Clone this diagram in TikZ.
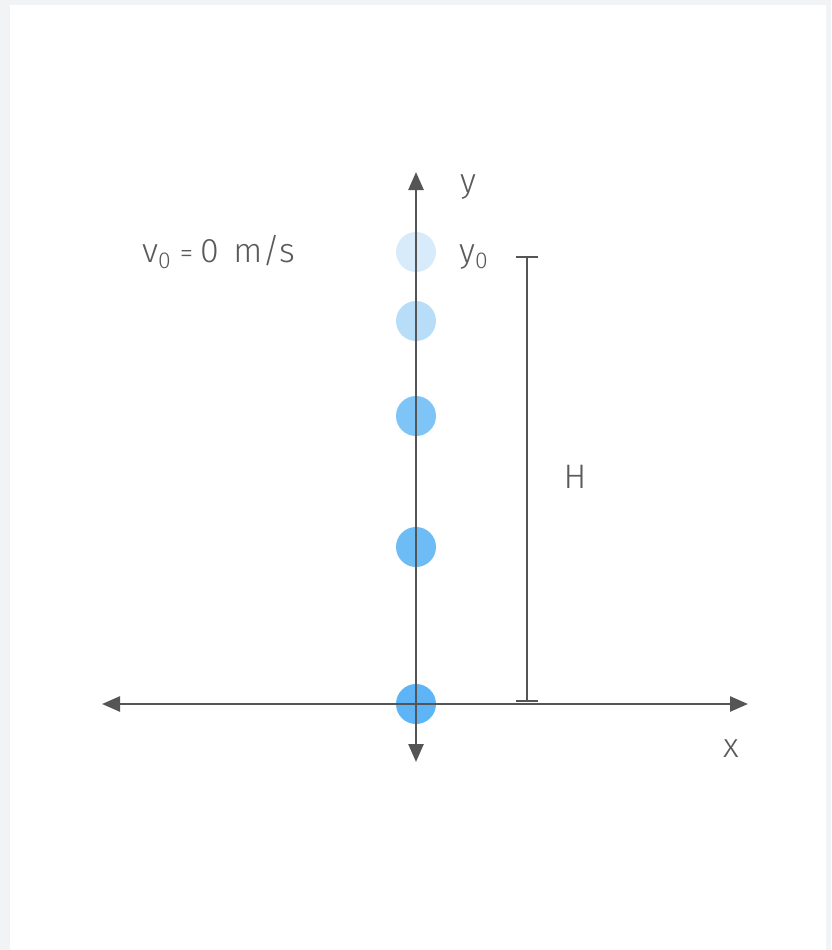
\documentclass[tikz,border=0pt]{standalone}
\usepackage{fontspec}
\setmainfont{Fira Sans}[UprightFont=* Light]
\usetikzlibrary{arrows.meta}
\definecolor{bggrey}{HTML}{F2F3F4}
\definecolor{axisgrey}{HTML}{555555}
\definecolor{txtgrey}{HTML}{5A5A5A}
\definecolor{ballA}{HTML}{D8EBFB}
\definecolor{ballB}{HTML}{B8DDF9}
\definecolor{ballC}{HTML}{7FC4F7}
\definecolor{ballD}{HTML}{6DBCF6}
\definecolor{ballE}{HTML}{5DB4F7}
\newcommand{\subz}{{\fontsize{23}{24}\selectfont\raisebox{-6pt}{0}}}
\tikzset{
  axis/.style={draw=axisgrey, line width=2.5pt, {Triangle[length=18pt,width=15pt]}-{Triangle[length=18pt,width=15pt]}},
  ball/.style={circle, minimum size=40pt, inner sep=0pt, draw=none},
  lbl/.style={text=txtgrey, font=\fontsize{34}{38}\selectfont, inner sep=0pt},
  hbar/.style={draw=axisgrey, line width=2.5pt},
}
\begin{document}
\begin{tikzpicture}[x=1pt,y=-1pt]
\fill[bggrey] (0,0) rectangle (831,950);
\fill[white] (10,5) rectangle (826,950);
\useasboundingbox (0,0) rectangle (831,950);
% axes
\coordinate (xl) at (102,704);
\coordinate (xr) at (748,704);
\coordinate (yt) at (416,172);
\coordinate (yb) at (416,762);
% balls
\node[ball, fill=ballA] (b1) at (416,252) {};
\node[ball, fill=ballB] (b2) at (416,321) {};
\node[ball, fill=ballC] (b3) at (416,416) {};
\node[ball, fill=ballD] (b4) at (416,547) {};
\node[ball, fill=ballE] (b5) at (416,704) {};
\draw[axis] (xl) -- (xr);
\draw[axis] (yb) -- (yt);
% H bar
\coordinate (ht) at (527,257);
\coordinate (hb) at (527,701);
\draw[hbar] (ht) -- (hb);
\draw[hbar] ([xshift=-11pt]ht) -- ([xshift=11pt]ht);
\draw[hbar] ([xshift=-11pt]hb) -- ([xshift=11pt]hb);
% labels
\node[lbl, anchor=base] (ly) at (468,192) {y};
\node[lbl, anchor=base west] (ly0) at (459,262) {y\subz};
\node[lbl, anchor=base west] (lv) at (142,262) {v\subz\hspace{9pt}{\fontsize{27}{28}\selectfont=}\hspace{7pt}0\hspace{5pt} m/s};
\node[lbl, anchor=base] (lH) at (575,488) {H};
\node[lbl, anchor=base] (lx) at (731,757) {x};
\end{tikzpicture}
\end{document}
